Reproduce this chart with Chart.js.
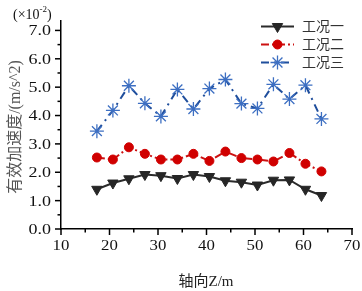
<!DOCTYPE html>
<html>
<head>
<meta charset="utf-8">
<script src="https://cdn.jsdelivr.net/npm/chart.js@4.4.1/dist/chart.umd.min.js"></script>
<style>
  body { margin: 0; background: #fff; }
  #wrap { width: 362px; height: 291px; }
</style>
</head>
<body>
<div id="wrap"><canvas id="myChart" width="362" height="291"></canvas></div>
<script>
// values (y in units of 1e-2 m/s^2)
var axialZ = [17.4, 20.7, 24.0, 27.3, 30.6, 34.0, 37.3, 40.6, 43.9, 47.2, 50.5, 53.8, 57.1, 60.4, 63.7];
var case1 = [1.40, 1.62, 1.77, 1.92, 1.88, 1.78, 1.92, 1.85, 1.70, 1.65, 1.55, 1.72, 1.73, 1.40, 1.18];
var case2 = [2.52, 2.45, 2.88, 2.65, 2.45, 2.45, 2.65, 2.40, 2.73, 2.50, 2.45, 2.38, 2.68, 2.30, 2.03];
var case3 = [3.45, 4.18, 5.05, 4.43, 3.97, 4.92, 4.23, 4.95, 5.27, 4.42, 4.25, 5.10, 4.58, 5.07, 3.88];
var caseNames = ['工况一', '工况二', '工况三'];
var xTicks = [10, 20, 30, 40, 50, 60, 70];
var yTicks = [0, 1, 2, 3, 4, 5, 6, 7];

function toPoints(ys) {
  var pts = [];
  for (var i = 0; i < ys.length; i++) {
    pts.push({ x: axialZ[i], y: ys[i] });
  }
  return pts;
}

var serif = '"Liberation Serif", "Noto Sans CJK SC", serif';

// draws text a little wider, the figure is stretched sideways
function wideText(ctx, txt, x, y, sx) {
  ctx.save();
  ctx.translate(x, y);
  ctx.scale(sx, 1);
  ctx.fillText(txt, 0, 0);
  ctx.restore();
}

// axis ticks, labels, titles and legend drawn by hand
var decorPlugin = {
  id: 'decor',
  afterDraw: function(chart) {
    var ctx = chart.ctx;
    var xs = chart.scales.x;
    var ys = chart.scales.y;
    var area = chart.chartArea;
    ctx.save();
    ctx.strokeStyle = '#000';
    ctx.lineWidth = 1.5;
    ctx.fillStyle = '#111';
    ctx.font = '15px ' + serif;

    // x ticks
    ctx.textAlign = 'center';
    ctx.textBaseline = 'top';
    for (var v = 10; v <= 70; v += 5) {
      var px = xs.getPixelForValue(v);
      var major = v % 10 === 0;
      ctx.beginPath();
      ctx.moveTo(px, area.bottom);
      ctx.lineTo(px, area.bottom + (major ? 6 : 3.5));
      ctx.stroke();
    }
    for (var i = 0; i < xTicks.length; i++) {
      wideText(ctx, String(xTicks[i]), xs.getPixelForValue(xTicks[i]), area.bottom + 10, 1.12);
    }

    // y ticks
    ctx.textAlign = 'right';
    ctx.textBaseline = 'middle';
    for (var w = 0; w <= 7; w += 0.5) {
      var py = ys.getPixelForValue(w);
      var maj = w % 1 === 0;
      ctx.beginPath();
      ctx.moveTo(area.left, py);
      ctx.lineTo(area.left - (maj ? 6 : 3.5), py);
      ctx.stroke();
    }
    for (var j = 0; j < yTicks.length; j++) {
      wideText(ctx, yTicks[j].toFixed(1), area.left - 10, ys.getPixelForValue(yTicks[j]) + 1, 1.2);
    }

    // multiplier
    ctx.textAlign = 'left';
    ctx.textBaseline = 'alphabetic';
    ctx.font = '14px ' + serif;
    ctx.fillText('(×10', 13, 19);
    var wBase = ctx.measureText('(×10').width;
    ctx.font = '9px ' + serif;
    ctx.fillText('-2', 13 + wBase, 12);
    var wSup = ctx.measureText('-2').width;
    ctx.font = '14px ' + serif;
    ctx.fillText(')', 13 + wBase + wSup, 19);

    // x title
    ctx.fillStyle = '#222';
    ctx.textAlign = 'center';
    ctx.font = '15px ' + serif;
    ctx.fillText('轴向Z/m', 206, 286);

    // y title
    ctx.save();
    ctx.translate(20, 127);
    ctx.rotate(-Math.PI / 2);
    ctx.fillStyle = '#555';
    ctx.textBaseline = 'alphabetic';
    ctx.font = '16px ' + serif;
    ctx.fillText('有效加速度/(m/s^2)', 0, 0);
    ctx.restore();

    // legend
    var rows = [26.5, 44.5, 62.5];
    ctx.font = '14px ' + serif;
    ctx.textAlign = 'left';
    ctx.textBaseline = 'middle';
    for (var k = 0; k < 3; k++) {
      var ds = chart.data.datasets[k];
      ctx.save();
      ctx.strokeStyle = ds.borderColor;
      ctx.lineWidth = 2;
      ctx.setLineDash(ds.borderDash || []);
      ctx.beginPath();
      ctx.moveTo(261, rows[k]);
      ctx.lineTo(294, rows[k]);
      ctx.stroke();
      ctx.setLineDash([]);
      ctx.fillStyle = ds.pointBackgroundColor;
      ctx.strokeStyle = ds.pointBorderColor;
      ctx.lineWidth = ds.pointBorderWidth;
      Chart.helpers.drawPoint(ctx, {
        pointStyle: ds.pointStyle,
        rotation: ds.pointRotation || 0,
        radius: ds.pointRadius,
        borderWidth: ds.pointBorderWidth
      }, 277.5, rows[k]);
      ctx.restore();
      ctx.fillStyle = '#333';
      ctx.fillText(caseNames[k], 302, rows[k] + 1);
    }
    ctx.restore();
  }
};

var myChart = new Chart(document.getElementById('myChart'), {
  type: 'line',
  data: {
    datasets: [{
      label: caseNames[0],
      data: toPoints(case1),
      borderColor: '#2b2b2b',
      borderWidth: 2,
      pointStyle: 'triangle',
      pointRotation: 180,
      pointRadius: 6,
      pointBackgroundColor: '#262626',
      pointBorderColor: '#262626',
      pointBorderWidth: 1
    }, {
      label: caseNames[1],
      data: toPoints(case2),
      borderColor: '#cc1111',
      borderWidth: 2,
      borderDash: [8, 3, 2, 3],
      pointStyle: 'circle',
      pointRadius: 4.5,
      pointBackgroundColor: '#d00000',
      pointBorderColor: '#d00000',
      pointBorderWidth: 1
    }, {
      label: caseNames[2],
      data: toPoints(case3),
      borderColor: '#1f4e9c',
      borderWidth: 2,
      borderDash: [8, 5, 2, 5],
      pointStyle: 'star',
      pointRadius: 7,
      pointBackgroundColor: '#3d6fc2',
      pointBorderColor: '#3d6fc2',
      pointBorderWidth: 1.3
    }]
  },
  options: {
    responsive: false,
    animation: false,
    layout: { padding: { top: 20.5, right: 10, left: 0, bottom: 0 } },
    plugins: { legend: { display: false }, tooltip: { enabled: false } },
    scales: {
      x: {
        type: 'linear',
        min: 10,
        max: 70,
        grid: { display: false },
        border: { display: true, color: '#000', width: 1.5 },
        ticks: { display: false },
        afterFit: function(scale) { scale.height = 62; }
      },
      y: {
        min: 0,
        max: 7.35,
        grid: { display: false },
        border: { display: true, color: '#000', width: 1.5 },
        ticks: { display: false },
        afterFit: function(scale) { scale.width = 61; }
      }
    }
  },
  plugins: [decorPlugin]
});
</script>
</body>
</html>
